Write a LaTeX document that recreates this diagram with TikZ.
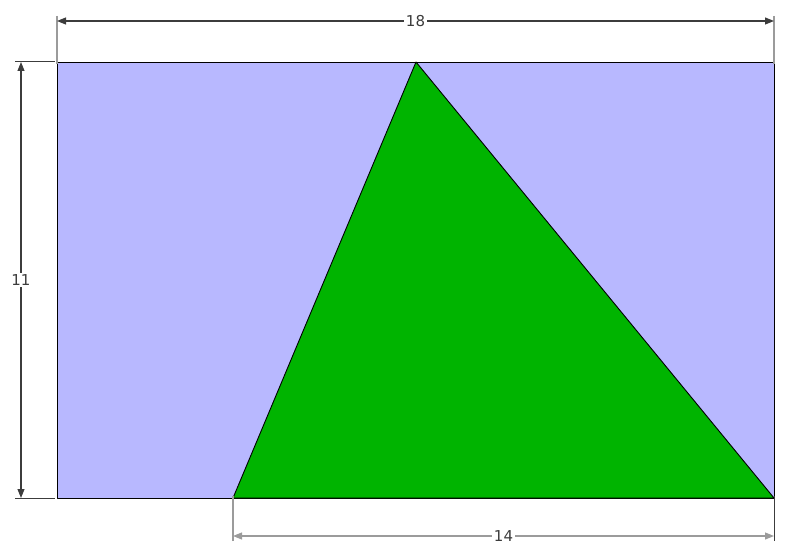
\documentclass[tikz,border=0pt]{standalone}
\usepackage{fontspec}
\setmainfont{DejaVu Sans}
\usetikzlibrary{arrows.meta}
\definecolor{rectblue}{RGB}{184,184,255}
\definecolor{trigreen}{RGB}{0,180,0}
\definecolor{dimgray}{RGB}{60,60,60}
\definecolor{extgray}{RGB}{155,155,155}
\begin{document}
\begin{tikzpicture}[x=1pt,y=-1pt,
  shapeline/.style={draw=black,line width=0.9pt,line join=round},
  dimline/.style={draw=dimgray,line width=1.1pt,{Triangle[length=9pt,width=7pt]}-{Triangle[length=9pt,width=7pt]}},
  extline/.style={draw=extgray,line width=1.4pt},
  dimlabel/.style={fill=white,inner sep=2pt,text=dimgray,font=\fontsize{15}{17}\selectfont}]
\useasboundingbox (0,0) rectangle (790,556);
\coordinate (A) at (57,62);
\coordinate (B) at (774,62);
\coordinate (C) at (774,498);
\coordinate (D) at (57,498);
\coordinate (T) at (416,62);
\coordinate (L) at (233,498);
% rectangle and triangle
\filldraw[shapeline,fill=rectblue] (A) -- (B) -- (C) -- (D) -- cycle;
\filldraw[shapeline,fill=trigreen] (L) -- (T) -- (C) -- cycle;
% extension lines
\coordinate (e1) at (57,16);
\coordinate (e2) at (774,16);
\coordinate (e3) at (15,62);
\coordinate (e4) at (15,498);
\coordinate (e5) at (233,541);
\coordinate (e6) at (774,541);
\draw[extline] (e1) -- ([yshift=-2]A);
\draw[extline] (e2) -- ([yshift=-2]B);
\draw[dimgray,line width=1pt] (e3) -- ([xshift=-2]A);
\draw[dimgray,line width=1pt] (e4) -- ([xshift=-2]D);
\draw[extline] (e5) -- ([yshift=2]L);
\draw[dimgray,line width=1pt] (e6) -- ([yshift=2]C);
% dimension lines
\coordinate (t1) at (57,21);
\coordinate (t2) at (774,21);
\coordinate (l1) at (21,62);
\coordinate (l2) at (21,498);
\coordinate (b1) at (233,536);
\coordinate (b2) at (774,536);
\draw[dimline] (t1) -- node[dimlabel] (n18) {18} (t2);
\draw[dimline] (l1) -- node[dimlabel] (n11) {11} (l2);
\draw[dimline,draw=extgray] (b1) -- node[dimlabel] (n14) {14} (b2);
\end{tikzpicture}
\end{document}
